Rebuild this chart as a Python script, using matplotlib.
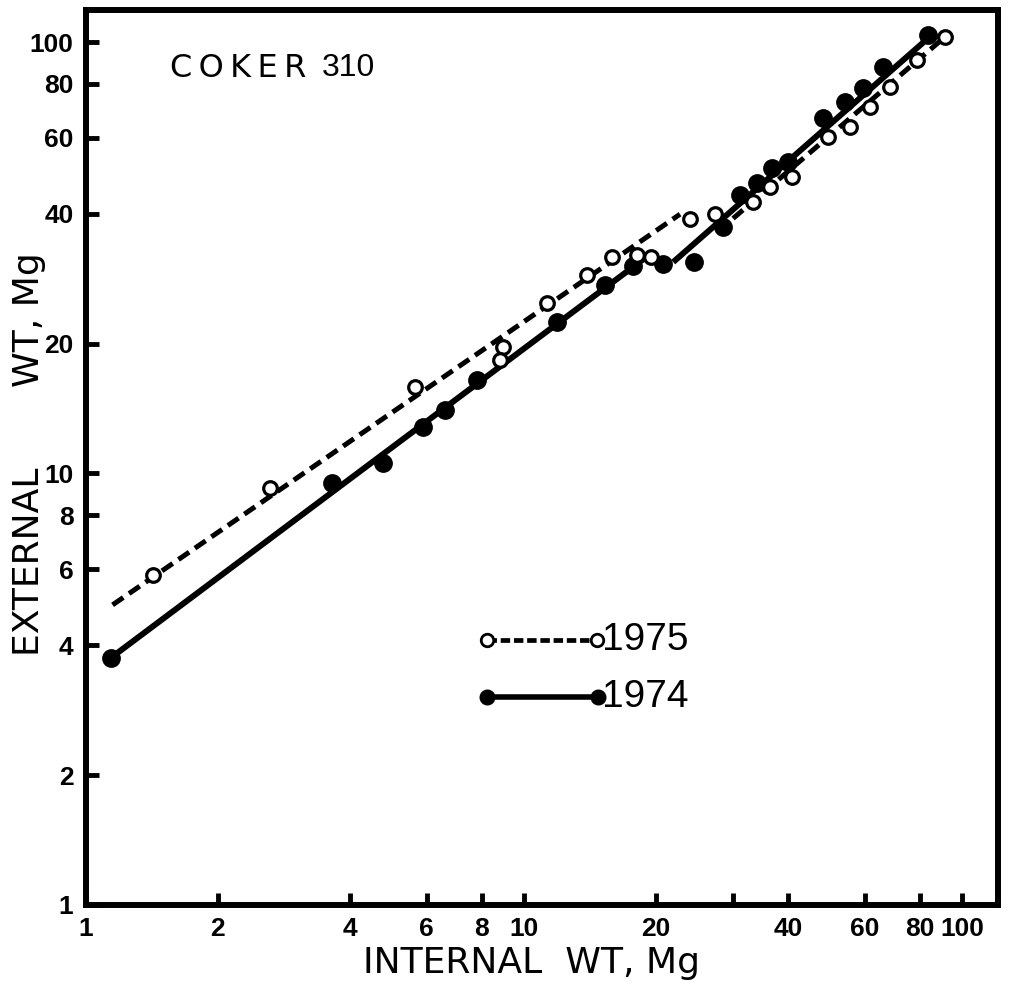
import matplotlib
matplotlib.use('Agg')
import matplotlib.pyplot as plt
import numpy as np

# 1975 open circles (internal wt, external wt), Mg
x_1975 = [1.42, 2.63, 5.64, 8.96, 8.81, 11.3, 13.9, 15.9, 18.1, 19.5, 23.9, 27.3,
          33.3, 36.4, 40.9, 49.4, 55.5, 61.7, 68.5, 78.9, 91.4]
y_1975 = [5.82, 9.26, 15.9, 19.6, 18.3, 24.8, 28.8, 31.7, 32.1, 31.7, 38.9, 39.9,
          42.6, 46.1, 48.7, 60.2, 63.5, 70.7, 78.7, 90.8, 102.8]

# 1974 filled circles
x_1974 = [1.14, 3.65, 4.77, 5.88, 6.60, 7.81, 11.9, 15.3, 17.7, 20.8, 24.4, 28.5,
          31.1, 34.0, 36.8, 40.1, 48.2, 54.1, 59.4, 66.0, 83.6]
y_1974 = [3.74, 9.51, 10.6, 12.8, 14.0, 16.5, 22.4, 27.3, 30.3, 30.6, 30.9, 37.3,
          44.2, 47.1, 51.1, 52.7, 66.7, 72.6, 78.2, 87.5, 103.8]

# fitted line segments (endpoints)
fit75_a_x, fit75_a_y = [1.15, 22.7], [4.96, 39.9]
fit75_b_x, fit75_b_y = [30.0, 91.4], [39.0, 102.8]
fit74_a_x, fit74_a_y = [1.14, 18.9], [3.74, 31.6]
fit74_b_x, fit74_b_y = [21.9, 86.8], [30.9, 105.5]

xticks = [1, 2, 4, 6, 8, 10, 20, 30, 40, 60, 80, 100]
xlabels = ['1', '2', '4', '6', '8', '10', '20', '', '40', '60', '80', '100']
yticks = [1, 2, 4, 6, 8, 10, 20, 40, 60, 80, 100]
ylabels = ['1', '2', '4', '6', '8', '10', '20', '40', '60', '80', '100']

fig = plt.figure(figsize=(10.09, 9.84), dpi=100)
ax = fig.add_axes([0.0852, 0.0803, 0.904, 0.9095])
ax.set_xscale('log')
ax.set_yscale('log')
ax.set_xlim(1, 120.8)
ax.set_ylim(1, 118.6)

dash = (0, (2.6, 1.4))
ax.plot(fit75_a_x, fit75_a_y, color='black', lw=3.6, ls=dash)
ax.plot(fit75_b_x, fit75_b_y, color='black', lw=3.6, ls=dash)
ax.plot(fit74_a_x, fit74_a_y, color='black', lw=4.3, solid_capstyle='butt')
ax.plot(fit74_b_x, fit74_b_y, color='black', lw=4.3, solid_capstyle='butt')

ax.plot(x_1974, y_1974, 'o', color='black', ms=12.5, zorder=3)
ax.plot(x_1975, y_1975, 'o', mfc='white', mec='black', mew=2.3, ms=9.8, zorder=4)

# legend drawn by hand
tr = ax.transAxes
ax.plot([0.440, 0.560], [0.296, 0.296], color='black', lw=3.4, ls=(0, (2.0, 0.8)),
        transform=tr)
ax.plot([0.440, 0.560], [0.296, 0.296], 'o', mfc='white', mec='black', mew=2,
        ms=9, transform=tr)
ax.plot([0.440, 0.561], [0.232, 0.232], color='black', lw=4, transform=tr)
ax.plot([0.440, 0.561], [0.232, 0.232], 'o', color='black', ms=10.5, transform=tr)
narrow = ['Liberation Sans', 'DejaVu Sans']
ax.text(0.566, 0.296, '1975', transform=tr, fontsize=28, family=narrow,
        va='center', ha='left')
ax.text(0.566, 0.232, '1974', transform=tr, fontsize=28, family=narrow,
        va='center', ha='left')

# title, letters spread out
ax.text(0.092, 0.935, 'C\u2009O\u2009K\u2009E\u2009R', transform=tr, fontsize=23,
        va='center', ha='left')
ax.text(0.259, 0.935, '310', transform=tr, fontsize=23, family=narrow,
        va='center', ha='left')

for s in ax.spines.values():
    s.set_linewidth(4.3)

ax.set_xticks(xticks)
ax.set_xticklabels(xlabels)
ax.set_yticks(yticks)
ax.set_yticklabels(ylabels)
ax.minorticks_off()
ax.tick_params(which='major', direction='in', length=9, width=3.5, pad=9)
for lab in ax.get_xticklabels() + ax.get_yticklabels():
    lab.set_family(narrow)
    lab.set_fontweight('bold')
    lab.set_fontsize(19)

ax.set_xlabel('INTERNAL  WT, Mg', fontsize=26)
ax.set_ylabel('EXTERNAL       WT, Mg', fontsize=26)
ax.xaxis.set_label_coords(0.488, -0.065)
ax.xaxis.label.set_va('center')
ax.yaxis.set_label_coords(-0.062, 0.504)
ax.yaxis.label.set_va('center')

fig.savefig('out.png', dpi=100)
